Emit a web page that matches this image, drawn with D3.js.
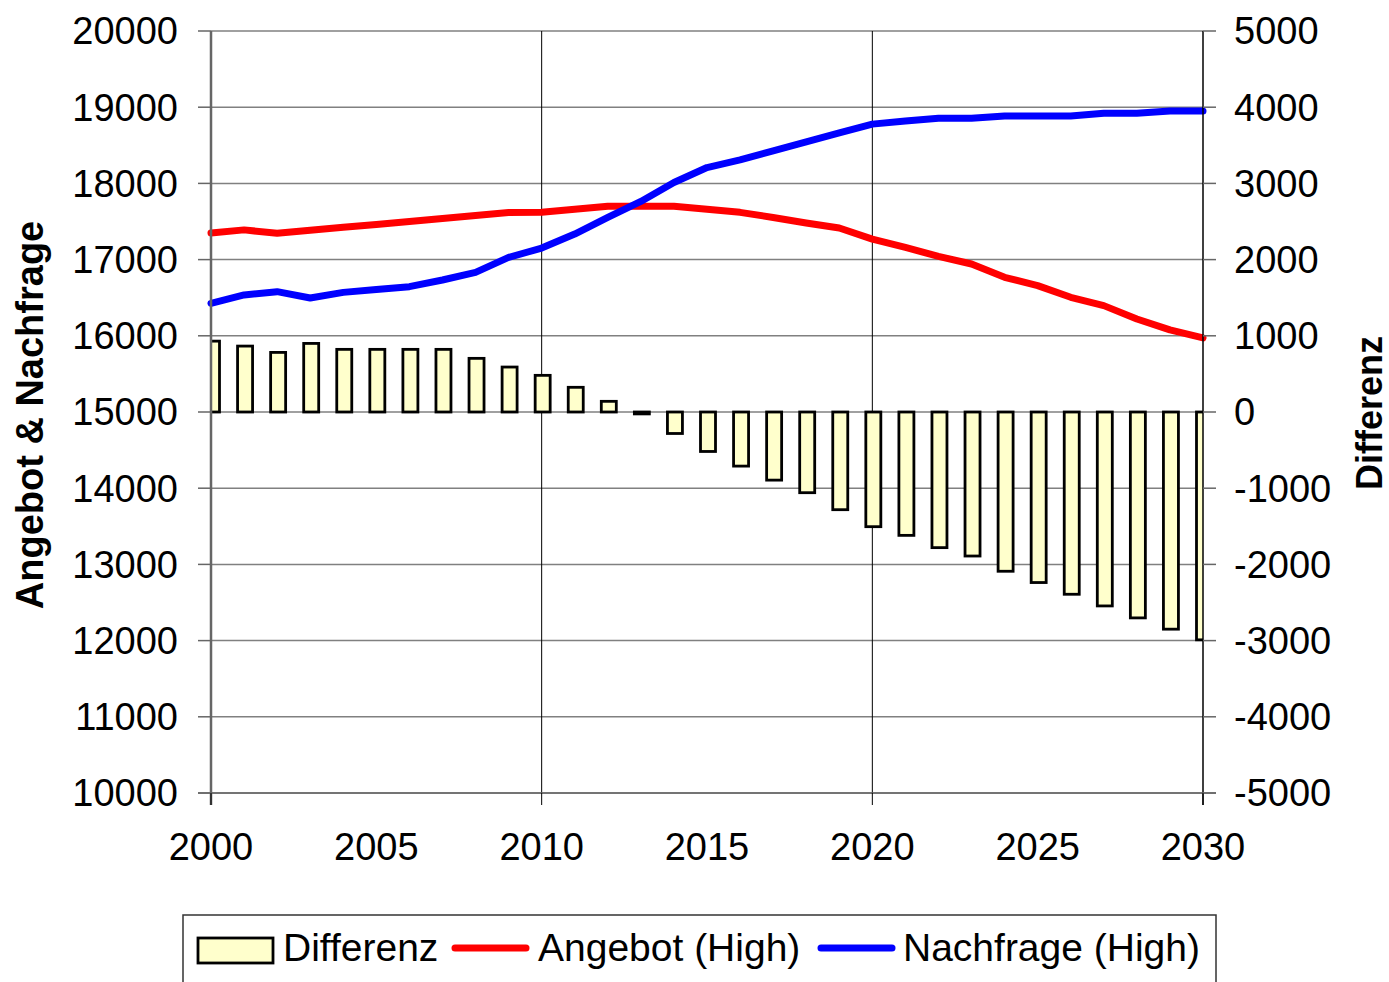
<!DOCTYPE html>
<html>
<head>
<meta charset="utf-8">
<script src="https://cdn.jsdelivr.net/npm/d3@7"></script>
<style>
  html, body { margin: 0; padding: 0; background: #fff; }
  svg { display: block; font-family: "Liberation Sans", Arial, sans-serif; }
</style>
</head>
<body>
<svg id="chart" width="1389" height="982"></svg>
<script>
const years = d3.range(2000, 2031);
const angebot = [17350, 17390, 17345, 17385, 17425, 17462, 17500, 17540, 17580, 17618, 17620,
                 17660, 17700, 17700, 17700, 17660, 17620, 17553, 17480, 17414, 17268,
                 17160, 17042, 16942, 16767, 16658, 16505, 16396, 16221, 16077, 15972];
const nachfrage = [16426, 16536, 16579, 16496, 16570, 16609, 16645, 16732, 16832, 17029, 17152,
                   17335, 17553, 17763, 18012, 18208, 18309, 18427, 18545, 18663, 18778,
                   18820, 18856, 18856, 18886, 18886, 18886, 18921, 18921, 18951, 18951];
const differenz = [930, 865, 782, 900, 822, 822, 822, 822, 704, 590, 481,
                   324, 140, -25, -282, -518, -710, -894, -1059, -1282, -1505,
                   -1619, -1780, -1890, -2090, -2238, -2392, -2545, -2702, -2850, -2990];
const leftTicks = d3.range(10000, 20001, 1000);
const rightTicks = d3.range(-5000, 5001, 1000);
const xTicks = [2000, 2005, 2010, 2015, 2020, 2025, 2030];
const legendLabels = ["Differenz", "Angebot (High)", "Nachfrage (High)"];

const svg = d3.select("#chart");
const L = 211, R = 1203, T = 31, B = 793;
const x = d3.scaleLinear().domain([2000, 2030]).range([L, R]);
const yL = d3.scaleLinear().domain([10000, 20000]).range([B, T]);
const yR = d3.scaleLinear().domain([-5000, 5000]).range([B, T]);

svg.append("defs").append("clipPath").attr("id", "plotclip")
  .append("rect").attr("x", L).attr("y", T - 5).attr("width", R - L).attr("height", B - T + 10);

// horizontal gridlines
svg.append("g").selectAll("line").data(leftTicks).join("line")
  .attr("x1", L).attr("x2", R).attr("y1", d => yL(d)).attr("y2", d => yL(d))
  .attr("stroke", "#808080").attr("stroke-width", 1.5);

// vertical gridlines
svg.append("g").selectAll("line").data([2010, 2020]).join("line")
  .attr("x1", d => x(d)).attr("x2", d => x(d)).attr("y1", T).attr("y2", B)
  .attr("stroke", "#000").attr("stroke-width", 1);

// bars
const bw = 15;
svg.append("g").attr("clip-path", "url(#plotclip)").selectAll("rect").data(years).join("rect")
  .attr("x", (d) => x(d) + 1 - bw / 2)
  .attr("width", bw)
  .attr("y", (d, i) => Math.min(yR(differenz[i]), yR(0)))
  .attr("height", (d, i) => Math.max(Math.abs(yR(differenz[i]) - yR(0)), 1))
  .attr("fill", "#FFFFCC").attr("stroke", "#000").attr("stroke-width", 2.8);

// lines
const lineGen = arr => d3.line().x((d, i) => x(years[i])).y(d => yL(d))(arr);
svg.append("path").attr("d", lineGen(angebot))
  .attr("fill", "none").attr("stroke", "#FF0000").attr("stroke-width", 7)
  .attr("stroke-linejoin", "round").attr("stroke-linecap", "round");
svg.append("path").attr("d", lineGen(nachfrage))
  .attr("fill", "none").attr("stroke", "#0000FF").attr("stroke-width", 7)
  .attr("stroke-linejoin", "round").attr("stroke-linecap", "round");

// left axis
const gL = svg.append("g");
gL.append("line").attr("x1", L).attr("x2", L).attr("y1", T).attr("y2", B + 12)
  .attr("stroke", "#666").attr("stroke-width", 2.5);
gL.selectAll("line.t").data(leftTicks).join("line").attr("class", "t")
  .attr("x1", L - 13).attr("x2", L).attr("y1", d => yL(d)).attr("y2", d => yL(d))
  .attr("stroke", "#666").attr("stroke-width", 1.5);
gL.selectAll("text").data(leftTicks).join("text")
  .attr("x", 178).attr("y", d => yL(d)).attr("dy", "0.35em")
  .attr("text-anchor", "end").attr("font-size", 38).text(d => d);

// right axis
const gR = svg.append("g");
gR.append("line").attr("x1", R).attr("x2", R).attr("y1", T).attr("y2", B + 12)
  .attr("stroke", "#000").attr("stroke-width", 1.5);
gR.selectAll("line.t").data(rightTicks).join("line").attr("class", "t")
  .attr("x1", R).attr("x2", R + 13).attr("y1", d => yR(d)).attr("y2", d => yR(d))
  .attr("stroke", "#666").attr("stroke-width", 1.5);
gR.selectAll("text").data(rightTicks).join("text")
  .attr("x", 1234).attr("y", d => yR(d)).attr("dy", "0.35em")
  .attr("text-anchor", "start").attr("font-size", 38).text(d => d);

// bottom axis
const gB = svg.append("g");
gB.append("line").attr("x1", L - 13).attr("x2", R + 13).attr("y1", B).attr("y2", B)
  .attr("stroke", "#666").attr("stroke-width", 1.5);
gB.selectAll("line.t").data([2000, 2010, 2020, 2030]).join("line").attr("class", "t")
  .attr("x1", d => x(d)).attr("x2", d => x(d)).attr("y1", B).attr("y2", B + 12)
  .attr("stroke", "#000").attr("stroke-width", 1);
gB.selectAll("text").data(xTicks).join("text")
  .attr("x", d => x(d)).attr("y", 860)
  .attr("text-anchor", "middle").attr("font-size", 38).text(d => d);

// axis titles
svg.append("text").attr("transform", "translate(43,415) rotate(-90)")
  .attr("text-anchor", "middle").attr("font-size", 38).attr("font-weight", "bold")
  .text("Angebot & Nachfrage");
svg.append("text").attr("transform", "translate(1382,413) rotate(-90)")
  .attr("text-anchor", "middle").attr("font-size", 36).attr("font-weight", "bold")
  .text("Differenz");

// legend
const lg = svg.append("g");
lg.append("rect").attr("x", 183).attr("y", 915).attr("width", 1033).attr("height", 90)
  .attr("fill", "#fff").attr("stroke", "#333").attr("stroke-width", 1.5);
lg.append("rect").attr("x", 198).attr("y", 938).attr("width", 75).attr("height", 25)
  .attr("fill", "#FFFFCC").attr("stroke", "#000").attr("stroke-width", 2.8);
lg.append("line").attr("x1", 455).attr("x2", 526).attr("y1", 948).attr("y2", 948)
  .attr("stroke", "#FF0000").attr("stroke-width", 7).attr("stroke-linecap", "round");
lg.append("line").attr("x1", 821).attr("x2", 892).attr("y1", 948).attr("y2", 948)
  .attr("stroke", "#0000FF").attr("stroke-width", 7).attr("stroke-linecap", "round");
const lx = [283, 538, 903];
lg.selectAll("text").data(legendLabels).join("text")
  .attr("x", (d, i) => lx[i]).attr("y", 961).attr("font-size", 39).text(d => d);
</script>
</body>
</html>
